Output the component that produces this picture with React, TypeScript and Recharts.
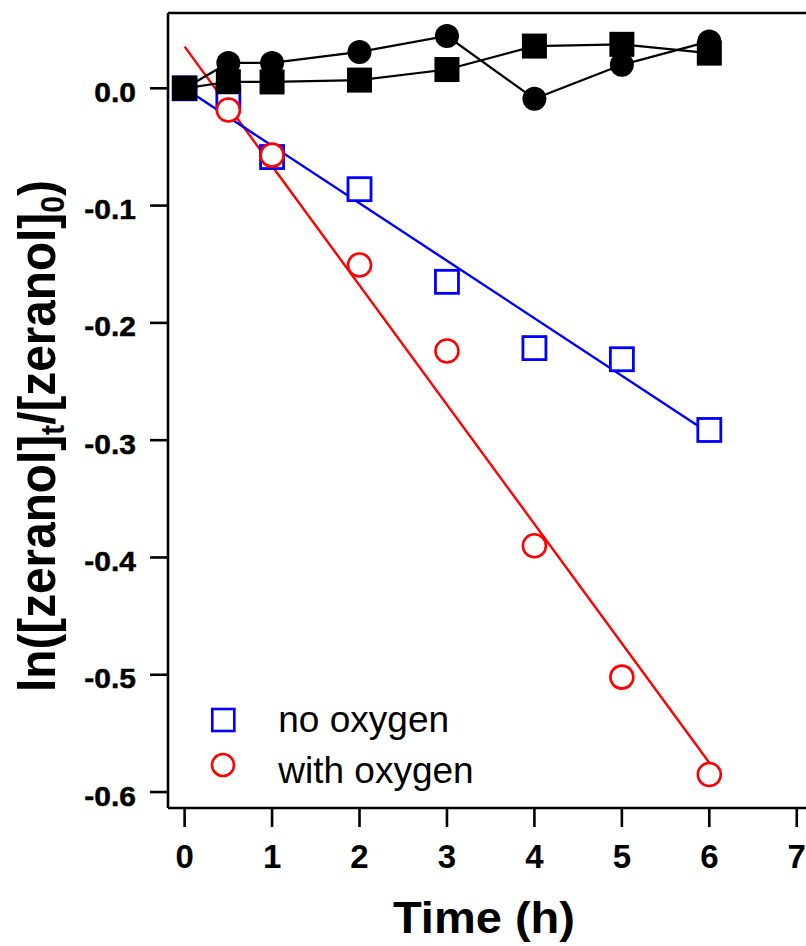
import React from 'react';
import { ComposedChart, Scatter, XAxis, YAxis, Legend, ReferenceLine } from 'recharts';

// ---- data ----
const sampleTimes = [0, 0.5, 1, 2, 3, 4, 5, 6];
const noOxygen = [0, -0.008, -0.0586, -0.086, -0.165, -0.2215, -0.231, -0.2913];
const withOxygen = [0, -0.0185, -0.057, -0.1506, -0.224, -0.39, -0.502, -0.585];
const controlCircles = [0, 0.0216, 0.0216, 0.031, 0.0446, -0.009, 0.02, 0.04];
const controlSquares = [0, 0.0056, 0.0054, 0.007, 0.016, 0.036, 0.0375, 0.03];
const fitTimes = [0, 6];
const fitNoOxygen = [0, -0.294];
const fitWithOxygen = [0.0355, -0.575];
const xTicks = [0, 1, 2, 3, 4, 5, 6, 7];
const yTicks = [-0.6, -0.5, -0.4, -0.3, -0.2, -0.1, 0];
const legendLabels = ['no oxygen', 'with oxygen'];

const X_DOMAIN: [number, number] = [-0.19, 7.3];
const Y_DOMAIN: [number, number] = [-0.6136, 0.0642];

const toPoints = (xs: number[], ys: number[]) => xs.map((x, i) => ({ x, y: ys[i] }));

const FONT = '"Liberation Sans", Arial, Helvetica, sans-serif';
const BLUE = '#0000ff';
const RED = '#ff0000';

const charW: Record<string, number> = { '-': 0.333, '.': 0.278 };
const textW = (s: string) => s.split('').reduce((a, c) => a + (charW[c] ?? 0.556), 0);

const OpenSquare = (p: any) => (
  <rect x={p.cx - 11.5} y={p.cy - 11.5} width={23} height={23} fill="#fff" stroke={BLUE} strokeWidth={2.8} />
);
const OpenCircle = (p: any) => (
  <circle cx={p.cx} cy={p.cy} r={11.5} fill="#fff" stroke={RED} strokeWidth={2.6} />
);
const FilledSquare = (p: any) => (
  <rect x={p.cx - 12.5} y={p.cy - 12.5} width={25} height={25} fill="#000" />
);
const FilledCircle = (p: any) => <circle cx={p.cx} cy={p.cy} r={12} fill="#000" />;
const NoShape = () => <g />;

const YTick = (p: any) => {
  const v: number = p.payload.value;
  const label = Math.abs(v) < 1e-9 ? '0.0' : v.toFixed(1);
  const fs = 28;
  return (
    <text
      x={p.x - 12}
      y={p.y + 13.5}
      textAnchor="end"
      fontFamily={FONT}
      fontWeight="bold"
      fontSize={fs}
      fill="#000"
      stroke="#000"
      strokeWidth={0.5}
      textLength={textW(label) * fs * 1.07}
      lengthAdjust="spacingAndGlyphs"
    >
      {label}
    </text>
  );
};

const XTick = (p: any) => (
  <text x={p.x} y={p.y + 39} textAnchor="middle" fontFamily={FONT} fontWeight="bold" fontSize={33} fill="#000">
    {String(p.payload.value)}
  </text>
);

const XLabel = () => (
  <text
    x={484}
    y={933}
    textAnchor="middle"
    fontFamily={FONT}
    fontWeight="bold"
    fontSize={44}
    fill="#000"
    textLength={182}
    lengthAdjust="spacingAndGlyphs"
  >
    Time (h)
  </text>
);

const YLabel = () => (
  <text
    transform="translate(55, 436) rotate(-90)"
    textAnchor="middle"
    fontFamily={FONT}
    fontWeight="bold"
    fontSize={52}
    fill="#000"
    textLength={512}
    lengthAdjust="spacingAndGlyphs"
  >
    <tspan>ln([zeranol]</tspan>
    <tspan fontSize={33} dy={9}>t</tspan>
    <tspan dy={-9}>/[zeranol]</tspan>
    <tspan fontSize={33} dy={9}>0</tspan>
    <tspan dy={-9}>)</tspan>
  </text>
);

const LegendBox = () => (
  <svg width={300} height={110} style={{ display: 'block' }}>
    <rect x={12.3} y={19} width={22} height={22} fill="#fff" stroke={BLUE} strokeWidth={2.6} />
    <text x={78.3} y={41.7} fontFamily={FONT} fontSize={37} fill="#000">
      {legendLabels[0]}
    </text>
    <circle cx={23} cy={75} r={11} fill="#fff" stroke={RED} strokeWidth={2.6} />
    <text x={78.3} y={92.5} fontFamily={FONT} fontSize={37} fill="#000">
      {legendLabels[1]}
    </text>
  </svg>
);

export default function App() {
  return (
    <div
      style={{
        position: 'absolute',
        left: 0,
        top: 0,
        width: 806,
        height: 946,
        overflow: 'hidden',
        background: '#fff',
      }}
    >
      <ComposedChart width={823} height={946} margin={{ top: 13, right: 0, bottom: 0, left: 18 }}>
        <XAxis
          xAxisId="main"
          type="number"
          dataKey="x"
          domain={X_DOMAIN}
          ticks={xTicks}
          allowDataOverflow
          height={138}
          tickSize={19}
          axisLine={{ stroke: '#000', strokeWidth: 2.6 }}
          tickLine={{ stroke: '#000', strokeWidth: 2.6 }}
          tick={<XTick />}
          label={{ content: () => <XLabel /> }}
          interval={0}
        />
        <YAxis
          yAxisId="main"
          type="number"
          dataKey="y"
          domain={Y_DOMAIN}
          ticks={yTicks}
          allowDataOverflow
          width={150}
          tickSize={18}
          axisLine={{ stroke: '#000', strokeWidth: 2.6 }}
          tickLine={{ stroke: '#000', strokeWidth: 2.6 }}
          tick={<YTick />}
          label={{ content: () => <YLabel /> }}
          interval={0}
        />
        <ReferenceLine
          xAxisId="main"
          yAxisId="main"
          y={Y_DOMAIN[1]}
          stroke="#000"
          strokeWidth={2.6}
          ifOverflow="extendDomain"
        />
        <Legend
          layout="vertical"
          align="center"
          verticalAlign="middle"
          content={() => <LegendBox />}
          wrapperStyle={{ position: 'absolute', left: 200, top: 690, width: 300, height: 110 }}
        />
        <Scatter
          xAxisId="main"
          yAxisId="main"
          data={toPoints(fitTimes, fitWithOxygen)}
          fill={RED}
          line={{ stroke: RED, strokeWidth: 2.4 }}
          shape={NoShape}
          isAnimationActive={false}
        />
        <Scatter
          xAxisId="main"
          yAxisId="main"
          data={toPoints(fitTimes, fitNoOxygen)}
          fill={BLUE}
          line={{ stroke: BLUE, strokeWidth: 2.4 }}
          shape={NoShape}
          isAnimationActive={false}
        />
        <Scatter
          xAxisId="main"
          yAxisId="main"
          data={toPoints(sampleTimes, noOxygen)}
          fill={BLUE}
          shape={OpenSquare}
          isAnimationActive={false}
        />
        <Scatter
          xAxisId="main"
          yAxisId="main"
          data={toPoints(sampleTimes, withOxygen)}
          fill={RED}
          shape={OpenCircle}
          isAnimationActive={false}
        />
        <Scatter
          xAxisId="main"
          yAxisId="main"
          data={toPoints(sampleTimes, controlSquares)}
          fill="#000"
          line={{ stroke: '#000', strokeWidth: 2.2 }}
          shape={FilledSquare}
          isAnimationActive={false}
        />
        <Scatter
          xAxisId="main"
          yAxisId="main"
          data={toPoints(sampleTimes, controlCircles)}
          fill="#000"
          line={{ stroke: '#000', strokeWidth: 2.2 }}
          shape={FilledCircle}
          isAnimationActive={false}
        />
      </ComposedChart>
    </div>
  );
}
